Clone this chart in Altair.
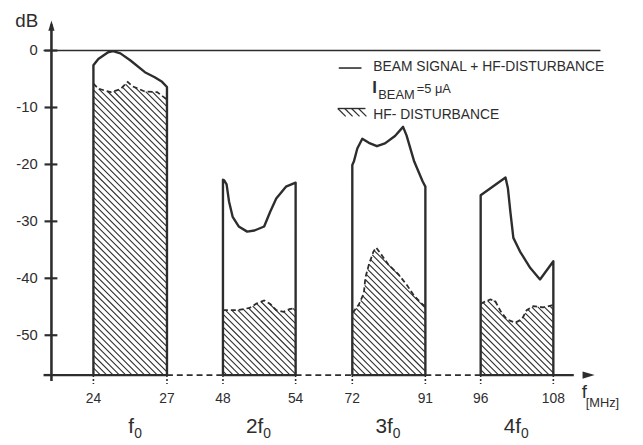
import altair as alt
import numpy as np
import pandas as pd

# ---------------- chart values ----------------
band_lo = [24, 48, 72, 96]
band_hi = [27, 54, 91, 108]
band_names = ["f", "2f", "3f", "4f"]
x_ticks = [24, 27, 48, 54, 72, 91, 96, 108]
y_ticks = [0, -10, -20, -30, -40, -50]
y_tick_labels = ["0", "-10", "-20", "-30", "-40", "-50"]
floor_db = -57

# beam signal + HF disturbance (solid)
sig1_f = [24, 24.2, 24.6, 24.8, 25.1, 25.5, 26.1, 26.5, 26.8, 27]
sig1_db = [-2.6, -1.5, -0.3, -0.1, -0.5, -1.7, -3.8, -4.7, -5.5, -6.4]
sig2_f = [48, 48.1, 48.3, 48.5, 48.8, 49.3, 50.0, 50.6, 51.4, 51.9, 52.4, 53.2, 54]
sig2_db = [-22.7, -22.8, -23.5, -26.5, -29.2, -30.9, -31.8, -31.6, -30.9, -28.3, -26.0, -23.9, -23.2]
sig3_f = [72, 72.4, 73.3, 74.6, 76.3, 78.4, 80.5, 83.1, 85.2, 86.1, 88.1, 90.3, 91]
sig3_db = [-20.1, -19.5, -17.2, -15.5, -16.2, -16.8, -16.3, -15.0, -13.4, -14.9, -19.5, -23.0, -23.9]
sig4_f = [96, 100.1, 100.5, 100.9, 101.4, 102.5, 104.2, 105.8, 108]
sig4_db = [-25.4, -22.3, -24.2, -28.3, -32.9, -35.3, -38.2, -40.2, -37.0]

# HF disturbance alone (dashed, hatched)
hf1_f = [24, 24.2, 24.7, 25.1, 25.3, 25.4, 25.6, 26.1, 26.6, 27]
hf1_db = [-5.8, -6.7, -7.3, -6.8, -5.9, -5.5, -6.3, -7.2, -7.3, -8.6]
hf2_f = [48, 49.2, 50.2, 50.8, 51.4, 51.9, 52.4, 53.0, 53.5, 54]
hf2_db = [-45.6, -45.6, -45.2, -44.4, -43.9, -44.5, -45.6, -45.9, -45.4, -45.2]
hf3_f = [72, 72.4, 73.7, 75.0, 75.4, 76.3, 77.5, 78.2, 79.3, 81.4, 84.0, 86.1, 88.1, 90.3, 91]
hf3_db = [-46.0, -45.8, -44.6, -42.6, -39.9, -37.6, -35.3, -34.6, -35.6, -37.6, -39.3, -41.1, -43.1, -44.6, -44.9]
hf4_f = [96, 96.3, 97.6, 98.4, 99.3, 100.3, 101.7, 102.8, 103.6, 104.7, 106.3, 108]
hf4_db = [-44.5, -44.3, -43.7, -44.0, -45.8, -47.2, -47.8, -47.2, -45.6, -44.9, -45.1, -44.7]

sig_f = [sig1_f, sig2_f, sig3_f, sig4_f]
sig_db = [sig1_db, sig2_db, sig3_db, sig4_db]
hf_f = [hf1_f, hf2_f, hf3_f, hf4_f]
hf_db = [hf1_db, hf2_db, hf3_db, hf4_db]

# ---------------- scales (broken frequency axis) ----------------
freq_domain = [0, 24, 27, 48, 54, 72, 91, 96, 108, 120]
freq_range = [44, 86.5, 161, 217.7, 291.3, 348.7, 422.7, 478.7, 552.3, 593.7]
db_domain = [floor_db, 0]
db_range = [369, 40.3]

ink = "#2d2d2d"
FONT = "Liberation Sans"

xs = alt.Scale(domain=freq_domain, range=freq_range, zero=False, nice=False)
ys = alt.Scale(domain=db_domain, range=db_range, zero=False, nice=False)


def X(field):
    return alt.X(field, type="quantitative", scale=xs, axis=None)


def Y(field):
    return alt.Y(field, type="quantitative", scale=ys, axis=None)


# scale helpers (used only to build 45-degree hatch segments in data units)
def fx(f):
    return np.interp(f, freq_domain, freq_range)


def fx_inv(p):
    return np.interp(p, freq_range, freq_domain)


ky = (db_range[0] - db_range[1]) / (db_domain[1] - db_domain[0])


def fy(d):
    return db_range[1] + (db_domain[1] - np.asarray(d, dtype=float)) * ky


def fy_inv(p):
    return db_domain[1] - (np.asarray(p, dtype=float) - db_range[1]) / ky


# ---------------- tables ----------------
sig_rows = []
for b, (lo, hi, fs, ds) in enumerate(zip(band_lo, band_hi, sig_f, sig_db)):
    pts = [(lo, floor_db)] + list(zip(fs, ds)) + [(hi, floor_db)]
    for i, (f, d) in enumerate(pts):
        sig_rows.append(dict(band=b, order=i, f=f, db=d))
sig_df = pd.DataFrame(sig_rows)

hf_rows = []
for b, (fs, ds) in enumerate(zip(hf_f, hf_db)):
    for i, (f, d) in enumerate(zip(fs, ds)):
        hf_rows.append(dict(band=b, order=i, f=f, db=d))
hf_df = pd.DataFrame(hf_rows)

# hatch segments clipped under the HF-disturbance curve
sp = 6.4
hatch_rows = []
base_px = float(fy(floor_db))
for lo, hi, fs, ds in zip(band_lo, band_hi, hf_f, hf_db):
    xl, xr = float(fx(lo)), float(fx(hi))
    xx = np.linspace(xl, xr, 1200)
    top = np.interp(xx, fx(fs), fy(ds))
    n0 = int(np.ceil((top.min() - xr) / sp))
    n1 = int(np.floor((base_px - xl) / sp))
    for n in range(n0, n1 + 1):
        c = n * sp
        yl = xx + c
        inside = (yl >= top) & (yl <= base_px)
        edges = np.flatnonzero(np.diff(np.concatenate([[0], inside.astype(int), [0]])))
        for a, bb in zip(edges[::2], edges[1::2]):
            xa, xb = xx[a], xx[bb - 1]
            if xb - xa < 0.6:
                continue
            hatch_rows.append(dict(f=float(fx_inv(xa)), db=float(fy_inv(xa + c)),
                                   f2=float(fx_inv(xb)), db2=float(fy_inv(xb + c))))
hatch_df = pd.DataFrame(hatch_rows)

base_solid = pd.DataFrame(dict(f=[0, 48, 72, 96], f2=[27, 54, 91, 114], db=[floor_db] * 4))
base_dash = pd.DataFrame(dict(f=[27, 54, 91], f2=[48, 72, 96], db=[floor_db] * 3))
xt_df = pd.DataFrame(dict(f=x_ticks, label=[str(v) for v in x_ticks], db=[floor_db] * len(x_ticks)))
yt_df = pd.DataFrame(dict(db=y_ticks, label=y_tick_labels))
band_df = pd.DataFrame(dict(f=[(a + b) / 2 for a, b in zip(band_lo, band_hi)], name=band_names,
                            sub=["0"] * 4))
one = pd.DataFrame(dict(a=[0]))

layers = []

# hatching
layers.append(alt.Chart(hatch_df).mark_rule(color=ink, strokeWidth=1.1).encode(
    x=X("f"), y=Y("db"), x2="f2", y2="db2"))

# HF-disturbance dashed curve
layers.append(alt.Chart(hf_df).mark_line(color=ink, strokeWidth=1.8, strokeDash=[5, 3]).encode(
    x=X("f"), y=Y("db"), detail="band:N", order="order:Q"))

# beam signal solid curve with vertical edges
layers.append(alt.Chart(sig_df).mark_line(color=ink, strokeWidth=2.4, strokeJoin="round").encode(
    x=X("f"), y=Y("db"), detail="band:N", order="order:Q"))

# baseline (solid in bands, dashed between)
layers.append(alt.Chart(base_solid).mark_rule(color=ink, strokeWidth=2.4).encode(
    x=X("f"), x2="f2", y=Y("db")))
layers.append(alt.Chart(base_dash).mark_rule(color=ink, strokeWidth=1.6, strokeDash=[6, 4]).encode(
    x=X("f"), x2="f2", y=Y("db")))
layers.append(alt.Chart(one).mark_rule(color=ink, strokeWidth=2.4).encode(
    x=alt.value(36), x2=alt.value(44), y=alt.value(369)))
# x arrow head
layers.append(alt.Chart(one).mark_point(shape="M1,0L-1,-0.6L-1,0.6Z", filled=True, opacity=1,
                                        color=ink, size=150).encode(
    x=alt.value(588), y=alt.value(369)))

# x tick marks under baseline
layers.append(alt.Chart(xt_df).mark_rule(color=ink, strokeWidth=1.6, strokeDash=[2, 2]).encode(
    x=X("f"), y=Y("db"), y2=alt.value(378)))

# y axis
layers.append(alt.Chart(one).mark_rule(color=ink, strokeWidth=2.6).encode(
    x=alt.value(44), y=alt.value(14), y2=alt.value(375)))
layers.append(alt.Chart(one).mark_point(shape="M0,-1L0.6,1L-0.6,1Z", filled=True, opacity=1,
                                        color=ink, size=110).encode(
    x=alt.value(44), y=alt.value(15)))
layers.append(alt.Chart(yt_df).mark_rule(color=ink, strokeWidth=2.2).encode(
    x=alt.value(37), x2=alt.value(50), y=Y("db")))

# 0 dB reference line
layers.append(alt.Chart(yt_df[yt_df.db == 0]).mark_rule(color=ink, strokeWidth=1.6).encode(
    x=alt.value(36), x2=alt.value(600), y=Y("db")))

# texts
layers.append(alt.Chart(one).mark_text(text="dB", font=FONT, fontSize=19, color=ink,
                                       align="center", baseline="middle").encode(
    x=alt.value(19), y=alt.value(10)))
layers.append(alt.Chart(yt_df).mark_text(font=FONT, fontSize=15, color=ink, align="right",
                                         baseline="middle").encode(
    x=alt.value(30), y=Y("db"), text="label:N"))
layers.append(alt.Chart(xt_df).mark_text(font=FONT, fontSize=14, color=ink, align="center",
                                         baseline="middle").encode(
    x=X("f"), y=alt.value(393), text="label:N"))
layers.append(alt.Chart(band_df).mark_text(font=FONT, fontSize=21, color=ink, align="right",
                                           baseline="middle", dx=4).encode(
    x=X("f"), y=alt.value(422), text="name:N"))
layers.append(alt.Chart(band_df).mark_text(font=FONT, fontSize=14, color=ink, align="left",
                                           baseline="middle", dx=4).encode(
    x=X("f"), y=alt.value(429), text="sub:N"))
layers.append(alt.Chart(one).mark_text(text="f", font=FONT, fontSize=19, color=ink, align="left",
                                       baseline="middle").encode(
    x=alt.value(581), y=alt.value(386)))
layers.append(alt.Chart(one).mark_text(text="[MHz]", font=FONT, fontSize=13, color=ink, align="left",
                                       baseline="middle").encode(
    x=alt.value(585), y=alt.value(397)))

# legend
layers.append(alt.Chart(one).mark_rule(color=ink, strokeWidth=1.6).encode(
    x=alt.value(335), x2=alt.value(358), y=alt.value(58)))
layers.append(alt.Chart(one).mark_text(text="BEAM SIGNAL + HF-DISTURBANCE", font=FONT, fontSize=14,
                                       color=ink, align="left", baseline="middle").encode(
    x=alt.value(370), y=alt.value(57)))
layers.append(alt.Chart(one).mark_text(text="I", font=FONT, fontSize=17, fontWeight="bold",
                                       color=ink, align="left", baseline="middle").encode(
    x=alt.value(369), y=alt.value(78)))
layers.append(alt.Chart(one).mark_text(text="BEAM", font=FONT, fontSize=13,
                                       color=ink, align="left", baseline="middle").encode(
    x=alt.value(375), y=alt.value(85)))
layers.append(alt.Chart(one).mark_text(text="=5 μA", font=FONT, fontSize=13,
                                       color=ink, align="left", baseline="middle").encode(
    x=alt.value(414), y=alt.value(79)))
layers.append(alt.Chart(one).mark_rule(color=ink, strokeWidth=1.4).encode(
    x=alt.value(334), x2=alt.value(362), y=alt.value(99)))
for x0 in [334, 341, 348, 355]:
    layers.append(alt.Chart(one).mark_rule(color=ink, strokeWidth=1.2).encode(
        x=alt.value(x0), x2=alt.value(x0 + 8), y=alt.value(99), y2=alt.value(107)))
layers.append(alt.Chart(one).mark_text(text="HF- DISTURBANCE", font=FONT, fontSize=14,
                                       color=ink, align="left", baseline="middle").encode(
    x=alt.value(370), y=alt.value(106)))

chart = alt.layer(*layers).properties(
    width=635, height=437, padding=0,
    autosize=alt.AutoSizeParams(type="none"),
    background="white",
).configure_view(strokeWidth=0)

chart.save("out.html", embed_options={"renderer": "svg", "actions": False})
